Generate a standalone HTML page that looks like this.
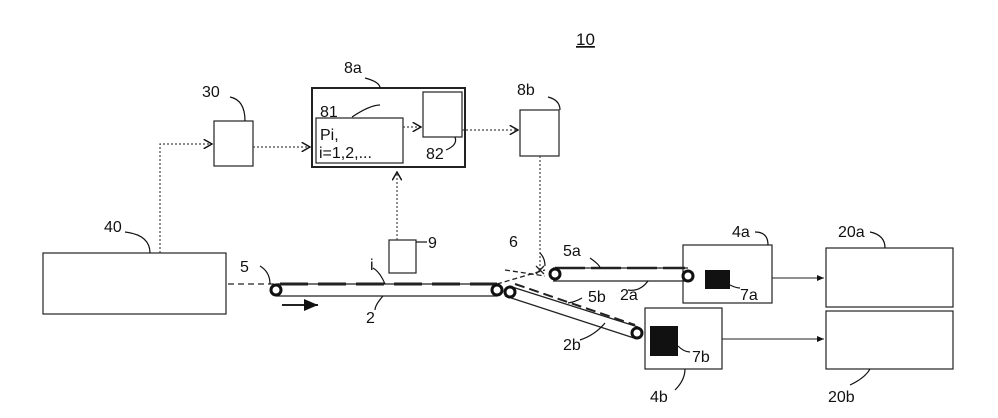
<!DOCTYPE html>
<html><head><style>body{margin:0;background:#fff}svg{display:block}text{font-family:"Liberation Sans",sans-serif;font-size:16px;fill:#111}</style></head><body>
<svg width="998" height="418" viewBox="0 0 998 418" xmlns="http://www.w3.org/2000/svg">
<defs><marker id="a" markerWidth="8" markerHeight="8" refX="7" refY="4" orient="auto"><path d="M0,0L7,4L0,8" fill="none" stroke="#111" stroke-width="1.2"/></marker>
<marker id="f" markerWidth="8" markerHeight="8" refX="7" refY="4" orient="auto"><path d="M0,1L7,4L0,7z" fill="#111"/></marker></defs>
<g fill="none" stroke="#222" stroke-width="1.2">
<rect x="43" y="253" width="183" height="61"/>
<rect x="214" y="121" width="39" height="45"/>
<rect x="312" y="88" width="153" height="79" stroke-width="2"/>
<rect x="316" y="118" width="87" height="45"/>
<rect x="423" y="92" width="39" height="45"/>
<rect x="520" y="110" width="39" height="46"/>
<rect x="389" y="240" width="27" height="33"/>
<rect x="683" y="245" width="89" height="58"/>
<rect x="645" y="308" width="77" height="61"/>
<rect x="826" y="248" width="127" height="59"/>
<rect x="826" y="311" width="127" height="58"/>
</g>
<rect x="705" y="270" width="25" height="19" fill="#111"/>
<rect x="650" y="326" width="28" height="30" fill="#111"/>
<g stroke="#444" stroke-width="1.2" stroke-dasharray="2,2" fill="none">
<path d="M160 253V144H212" marker-end="url(#a)"/>
<path d="M253 147H310" marker-end="url(#a)"/>
<path d="M403 127H421" marker-end="url(#a)"/>
<path d="M462 130H518" marker-end="url(#a)"/>
<path d="M540 156V272"/>
<path d="M397 240V172" marker-end="url(#a)"/>
</g>
<g stroke="#222" stroke-width="1.3" fill="none">
<path d="M276 284H497M276 296H497"/>
<path d="M553 268H688M553 281H688"/>
<path d="M509 286L638 327M505 296L634 338"/>
<path d="M228 284H280" stroke-dasharray="6,4"/>
<path d="M280 284H497" stroke-width="3" stroke-dasharray="28,10"/>
<path d="M497 284L545 270M505 270L545 276" stroke-dasharray="5,3"/>
<path d="M555 268H685" stroke-width="2.5" stroke-dasharray="30,6"/>
<path d="M515 284L635 325" stroke-width="2" stroke-dasharray="10,5"/>
<path d="M282 305H318" stroke-width="2" marker-end="url(#f)"/>
<path d="M772 278H824" marker-end="url(#f)" stroke-width="1"/>
<path d="M722 339H824" marker-end="url(#f)" stroke-width="1"/>
<path d="M536 266l8 8M544 266l-8 8"/>
</g>
<g fill="#fff" stroke="#111" stroke-width="3">
<circle cx="276" cy="290" r="5"/><circle cx="497" cy="290" r="5"/><circle cx="510" cy="292" r="5"/>
<circle cx="555" cy="274" r="5"/><circle cx="688" cy="276" r="5"/><circle cx="637" cy="333" r="5"/>
</g>
<g stroke="#111" stroke-width="1.2" fill="none">
<path d="M125 232Q150 235 150 253"/><path d="M230 97Q245 100 245 121"/><path d="M365 78Q380 82 380 88"/>
<path d="M548 97Q560 100 560 110"/><path d="M352 117Q370 105 380 105"/><path d="M446 150Q458 145 455 137"/>
<path d="M260 266Q270 272 270 284"/><path d="M373 268Q380 272 385 284"/><path d="M416 242H427"/>
<path d="M540 253Q545 258 545 266"/><path d="M590 258Q600 265 600 268"/><path d="M648 281Q640 292 628 290"/>
<path d="M568 303Q575 302 582 298"/><path d="M580 340Q595 335 605 323"/>
<path d="M678 346Q684 352 690 352"/><path d="M730 285Q736 288 740 288"/>
<path d="M755 232Q768 232 768 245"/><path d="M870 232Q885 235 885 248"/>
<path d="M675 390Q685 380 685 369"/><path d="M850 385Q865 378 870 369"/><path d="M383 296Q375 305 375 310"/>
</g>
<text x="576" y="45" style="font-size:17px;text-decoration:underline">10</text>
<text x="202" y="97">30</text><text x="344" y="73">8a</text><text x="320" y="117">81</text>
<text x="517" y="95">8b</text><text x="426" y="159">82</text>
<text x="320" y="140">Pi,</text><text x="319" y="158">i=1,2,...</text>
<text x="104" y="232">40</text><text x="240" y="272">5</text><text x="370" y="270">i</text>
<text x="428" y="248">9</text><text x="366" y="323">2</text><text x="509" y="247">6</text>
<text x="563" y="256">5a</text><text x="588" y="302">5b</text><text x="620" y="300">2a</text>
<text x="563" y="350">2b</text><text x="740" y="300">7a</text><text x="692" y="362">7b</text>
<text x="732" y="237">4a</text><text x="650" y="402">4b</text>
<text x="838" y="237">20a</text><text x="828" y="402">20b</text>
</svg>
</body></html>
